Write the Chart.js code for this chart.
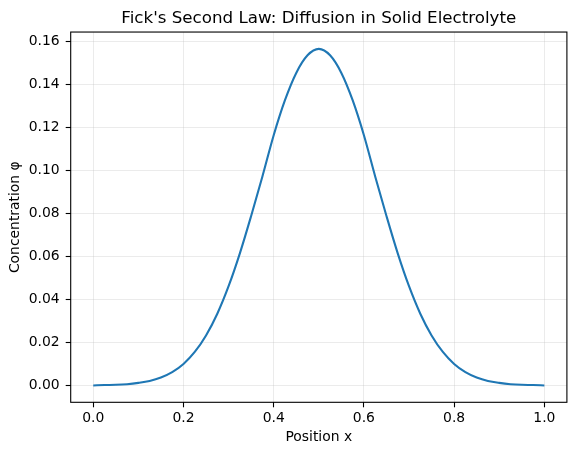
<!DOCTYPE html>
<html>
<head>
<meta charset="utf-8">
<script src="https://cdn.jsdelivr.net/npm/chart.js@4.4.1/dist/chart.umd.min.js"></script>
<style>
  html, body { margin: 0; padding: 0; background: #fff; }
  canvas { display: block; }
</style>
</head>
<body>
<canvas id="diffusion-chart" width="576" height="455"></canvas>
<script>
// position along the electrolyte
const positions = [
  0.000, 0.025, 0.050, 0.075, 0.100, 0.125, 0.150, 0.175, 0.200, 0.225,
  0.250, 0.275, 0.300, 0.325, 0.350, 0.375, 0.400, 0.425, 0.450, 0.475,
  0.500, 0.525, 0.550, 0.575, 0.600, 0.625, 0.650, 0.675, 0.700, 0.725,
  0.750, 0.775, 0.800, 0.825, 0.850, 0.875, 0.900, 0.925, 0.950, 0.975,
  1.000
];

// concentration phi at each position
const concentration = [
  0.0000, 0.0002, 0.0003, 0.0006, 0.0012, 0.0021, 0.0037, 0.0062, 0.0100, 0.0156,
  0.0233, 0.0334, 0.0462, 0.0615, 0.0789, 0.0973, 0.1165, 0.1328, 0.1455, 0.1537,
  0.1567, 0.1537, 0.1455, 0.1328, 0.1165, 0.0973, 0.0789, 0.0615, 0.0462, 0.0334,
  0.0233, 0.0156, 0.0100, 0.0062, 0.0037, 0.0021, 0.0012, 0.0006, 0.0003, 0.0002,
  0.0000
];

const xTicks = [0.0, 0.2, 0.4, 0.6, 0.8, 1.0];
const yTicks = [0.00, 0.02, 0.04, 0.06, 0.08, 0.10, 0.12, 0.14, 0.16];

const titleText = "Fick's Second Law: Diffusion in Solid Electrolyte";
const xLabel = 'Position x';
const yLabel = 'Concentration \u03c6';

//------------------------------ caja negra alrededor del area ------------------------------//
const frameBox = {
  id: 'frameBox',
  afterDatasetsDraw(chart) {
    const { ctx, chartArea } = chart;
    ctx.save();
    ctx.strokeStyle = '#000';
    ctx.lineWidth = 1.1;
    ctx.strokeRect(chartArea.left, chartArea.top,
      chartArea.right - chartArea.left, chartArea.bottom - chartArea.top);
    ctx.restore();
  }
};

const points = positions.map((x, i) => ({ x: x, y: concentration[i] }));

const tickFont = { family: 'DejaVu Sans', size: 13.9 };

const config = {
  type: 'line',
  data: {
    datasets: [{
      data: points,
      borderColor: '#1f77b4',
      borderWidth: 2.1,
      pointRadius: 0,
      fill: false,
      cubicInterpolationMode: 'monotone'
    }]
  },
  options: {
    responsive: false,
    animation: false,
    devicePixelRatio: 1,
    layout: { padding: { left: 0, right: 9.1, top: 0, bottom: 0 } },
    plugins: {
      legend: { display: false },
      tooltip: { enabled: false },
      title: {
        display: true,
        fullSize: false,   // centrado sobre el area del grafico
        text: titleText,
        color: '#000',
        font: { family: 'DejaVu Sans', size: 16.7, weight: 'normal' },
        padding: { top: 8.8, bottom: 3.2 }
      }
    },
    scales: {
      x: {
        type: 'linear',
        min: -0.05,
        max: 1.05,
        afterBuildTicks: scale => { scale.ticks = xTicks.map(v => ({ value: v })); },
        afterFit: scale => { scale.height = 52.7; },
        ticks: {
          color: '#000',
          font: tickFont,
          padding: 3,
          maxRotation: 0,
          callback: v => Number(v).toFixed(1)
        },
        grid: {
          color: 'rgba(176,176,176,0.33)',
          lineWidth: 0.8,
          tickColor: '#000',
          tickLength: 5,
          tickWidth: 1.1
        },
        border: { display: false },
        title: {
          display: true,
          text: xLabel,
          color: '#000',
          font: tickFont,
          padding: { top: 0, bottom: 9.2 }
        }
      },
      y: {
        type: 'linear',
        min: -0.00784,
        max: 0.16454,
        afterBuildTicks: scale => { scale.ticks = yTicks.map(v => ({ value: v })); },
        afterFit: scale => { scale.width = 70.7; },
        ticks: {
          color: '#000',
          font: tickFont,
          padding: 6,
          callback: v => Number(v).toFixed(2)
        },
        grid: {
          color: 'rgba(176,176,176,0.33)',
          lineWidth: 0.8,
          tickColor: '#000',
          tickLength: 5,
          tickWidth: 1.1
        },
        border: { display: false },
        title: {
          display: true,
          text: yLabel,
          color: '#000',
          font: tickFont,
          padding: { top: 6.7, bottom: 0 }
        }
      }
    }
  },
  plugins: [frameBox]
};

new Chart(document.getElementById('diffusion-chart'), config);
</script>
</body>
</html>
